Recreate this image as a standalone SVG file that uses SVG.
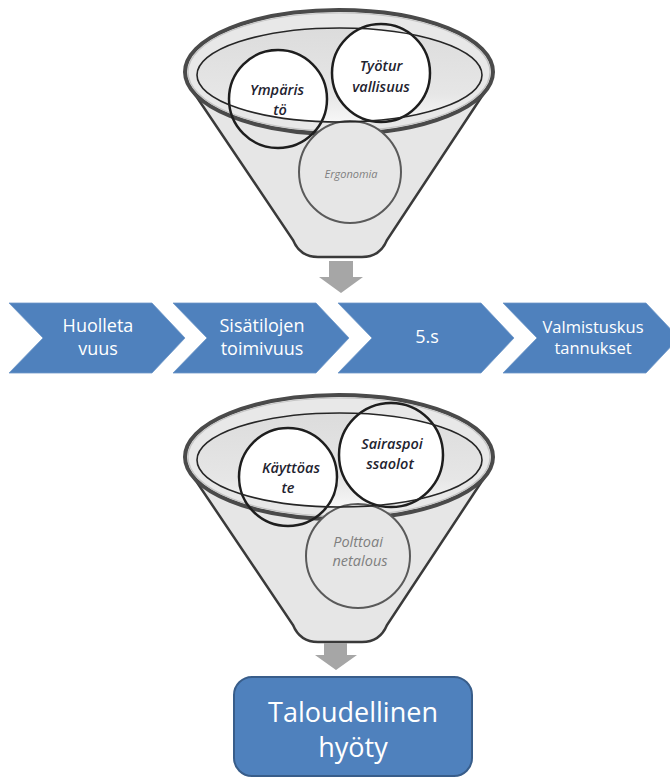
<svg xmlns="http://www.w3.org/2000/svg" width="670" height="778" viewBox="0 0 670 778">
<style>
.body{fill:#e6e6e6;stroke:#3a3a3a;stroke-width:2.5}
.rim{fill:#e8e8e8;stroke:#4a4a4a;stroke-width:4}
.rim2{fill:none;stroke:#c4c4c4;stroke-width:1.2}
.mouth{fill:url(#mouthGrad);stroke:none}
.mouthline{fill:none;stroke:#262626;stroke-width:1.6}
.wfill{fill:#ffffff;stroke:none}
.cdark{fill:none;stroke:#1e1e1e;stroke-width:2.5}
.cgray{fill:#e6e6e6;stroke:#5a5a5a;stroke-width:2}
.ct{font-family:"Open Sans","Liberation Sans",sans-serif;font-style:italic;font-weight:600;font-size:14.5px;fill:#1f2430;text-anchor:middle}
.cg{font-family:"Open Sans","Liberation Sans",sans-serif;font-style:italic;font-size:14.5px;fill:#7f7f7f;text-anchor:middle}
.chev{fill:#4f81bd;stroke:#6f98c9;stroke-width:0.8}
.wt{font-family:"Open Sans","Liberation Sans",sans-serif;font-size:18px;fill:#ffffff;text-anchor:middle}
.arrow{fill:#a6a6a6}
</style>
<defs>
<linearGradient id="mouthGrad" x1="0" y1="0" x2="0" y2="1">
<stop offset="0" stop-color="#dcdcdc"/>
<stop offset="0.7" stop-color="#e6e6e6"/>
<stop offset="1" stop-color="#f7f7f7"/>
</linearGradient>
<clipPath id="clipTop"><ellipse cx="339.5" cy="75" rx="142.5" ry="47"/></clipPath>
<clipPath id="clipBot"><ellipse cx="339.5" cy="460" rx="142.5" ry="47"/></clipPath>
</defs>

<g id="funnel-top">
<path class="body" d="M 190,87 L 293,240 Q 300,257 318,257 L 362,257 Q 380,257 387,240 L 488,87 A 154 62 0 0 1 190,87 Z"/>
<ellipse class="rim" cx="339" cy="72" rx="154" ry="62"/>
<ellipse class="rim2" cx="339" cy="72" rx="151" ry="59"/>
<ellipse class="mouth" cx="339.5" cy="75" rx="142.5" ry="47"/>
</g>
<g id="node-ergonomia">
<circle class="cgray" cx="350" cy="172" r="51"/>
<text class="cg" x="351" y="178" style="font-size:11px">Ergonomia</text>
</g>
<g id="node-ymparisto">
<circle class="wfill" cx="278" cy="99" r="49" clip-path="url(#clipTop)"/>
<circle class="cdark" cx="278" cy="99" r="49"/>
</g>
<g id="node-tyoturvallisuus">
<circle class="wfill" cx="381" cy="73" r="49" clip-path="url(#clipTop)"/>
<circle class="cdark" cx="381" cy="73" r="49"/>
</g>
<g id="funnel-top-mouth">
<ellipse class="mouthline" cx="339.5" cy="75" rx="142.5" ry="47"/>
</g>
<g id="labels-top">
<text class="ct" x="277" y="95">Ympäris</text>
<text class="ct" x="280" y="115">tö</text>
<text class="ct" x="381" y="71">Työtur</text>
<text class="ct" x="381" y="92">vallisuus</text>
</g>

<g id="chevron-1">
<path class="chev" d="M 9,303 L 152,303 L 185,338 L 152,373 L 9,373 L 43,338 Z"/>
<text class="wt" x="98" y="332">Huolleta</text>
<text class="wt" x="98" y="355">vuus</text>
</g>
<g id="chevron-2">
<path class="chev" d="M 173,303 L 316,303 L 349,338 L 316,373 L 173,373 L 207,338 Z"/>
<text class="wt" x="262" y="332">Sisätilojen</text>
<text class="wt" x="262" y="355">toimivuus</text>
</g>
<g id="chevron-3">
<path class="chev" d="M 338,303 L 481,303 L 514,338 L 481,373 L 338,373 L 372,338 Z"/>
<text class="wt" x="427" y="343">5.s</text>
</g>
<g id="chevron-4">
<path class="chev" d="M 503,303 L 646,303 L 679,338 L 646,373 L 503,373 L 537,338 Z"/>
<text class="wt" x="593" y="333" style="font-size:16.5px">Valmistuskus</text>
<text class="wt" x="593" y="354" style="font-size:16.5px">tannukset</text>
</g>

<g id="funnel-bottom">
<path class="body" d="M 190,472 L 293,625 Q 300,642 318,642 L 362,642 Q 380,642 387,625 L 488,472 A 154 62 0 0 1 190,472 Z"/>
<ellipse class="rim" cx="339" cy="457" rx="154" ry="62"/>
<ellipse class="rim2" cx="339" cy="457" rx="151" ry="59"/>
<ellipse class="mouth" cx="339.5" cy="460" rx="142.5" ry="47"/>
</g>
<g id="node-polttoainetalous">
<circle class="cgray" cx="358" cy="556" r="52"/>
<text class="cg" x="358" y="547">Polttoai</text>
<text class="cg" x="360" y="566">netalous</text>
</g>
<g id="node-kayttoaste">
<circle class="wfill" cx="288" cy="477" r="49" clip-path="url(#clipBot)"/>
<circle class="cdark" cx="288" cy="477" r="49"/>
</g>
<g id="node-sairaspoissaolot">
<circle class="wfill" cx="391" cy="455" r="52" clip-path="url(#clipBot)"/>
<circle class="cdark" cx="391" cy="455" r="52"/>
</g>
<g id="funnel-bottom-mouth">
<ellipse class="mouthline" cx="339.5" cy="460" rx="142.5" ry="47"/>
</g>
<g id="labels-bottom">
<text class="ct" x="291" y="473">Käyttöas</text>
<text class="ct" x="288" y="493">te</text>
<text class="ct" x="392" y="449">Sairaspoi</text>
<text class="ct" x="390" y="469">ssaolot</text>
</g>

<g id="connectors">
<path class="arrow" d="M 329,261 L 353,261 L 353,277 L 363,277 L 341,293 L 319,277 L 329,277 Z"/>
<path class="arrow" d="M 324,643 L 347,643 L 347,655 L 357,655 L 336,670 L 315,655 L 324,655 Z"/>
</g>

<g id="node-taloudellinen">
<rect x="234" y="677" width="238" height="99" rx="18" ry="18" fill="#4f81bd" stroke="#385d8a" stroke-width="2"/>
<text class="wt" x="353" y="722" style="font-size:27px">Taloudellinen</text>
<text class="wt" x="353" y="757" style="font-size:27px">hyöty</text>
</g>
</svg>
